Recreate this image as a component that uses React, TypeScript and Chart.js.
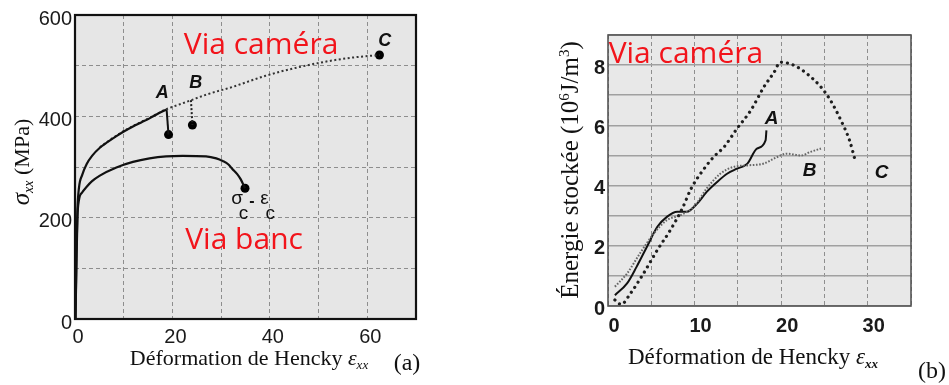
import React, { useEffect, useRef } from 'react';
import { Chart, registerables } from 'chart.js';
Chart.register(...registerables);

// ---------- (a) contrainte / déformation ----------
const camAStrain = [0.1, 0.3, 0.5, 0.8, 1.5, 2.4, 3.5, 5.1, 6.8, 8.5, 10.2, 11.9, 13.6, 15.3, 17.0, 18.7];
const camAStress = [0, 130, 215, 258, 285, 306, 322, 338, 350, 361, 371, 380, 388, 396, 405, 413];

const camCStrain = [5.1, 8.5, 11.9, 15.3, 18.7, 21.0, 23.6, 27.0, 32.3, 39.1, 45.9, 52.7, 57.0, 62.5];
const camCStress = [339, 362, 381, 397, 414, 422, 431, 443, 458, 480, 497, 510, 516, 521];

const bancStrain = [0.1, 0.3, 0.5, 0.8, 1.5, 2.4, 3.5, 5.1, 8.5, 11.9, 15.3, 18.7, 22.1, 26.9, 29.0, 30.3, 31.5, 32.3, 33.3, 34.0, 34.9];
const bancStress = [0, 110, 200, 234, 250, 261, 272, 283, 299, 310, 317, 321, 322, 321, 317, 312, 305, 296, 286, 276, 258];

const dropAStrain = [18.8, 19.2];
const dropAStress = [414, 364];
const dropBStrain = [23.8, 24.1];
const dropBStress = [432, 383];

const endStrain = [19.2, 24.1, 62.5, 34.9];
const endStress = [364, 383, 521, 258];

const aXTicks = [0, 20, 40, 60];
const aYTicks = [0, 200, 400, 600];

// ---------- (b) énergie stockée ----------
const bAStrain = [0.8, 2.2, 3.3, 4.5, 5.7, 6.8, 8.0, 9.1, 10.3, 11.4, 12.6, 13.8, 14.9, 16.1, 17.2, 18.2, 18.3];
const bAEnergy = [0.36, 0.75, 1.3, 1.97, 2.63, 2.96, 3.13, 3.13, 3.4, 3.79, 4.12, 4.4, 4.56, 4.73, 5.23, 5.5, 5.83];

const bBStrain = [0.8, 2.2, 3.7, 5.3, 6.8, 8.4, 9.9, 11.4, 13.0, 14.5, 16.1, 18.0, 19.2, 20.7, 22.3, 23.4, 24.6];
const bBEnergy = [0.64, 1.08, 1.75, 2.41, 2.85, 3.02, 3.29, 3.9, 4.4, 4.62, 4.67, 4.73, 4.9, 5.06, 5.0, 5.12, 5.23];

const bCStrain = [0.8, 1.5, 2.6, 4.1, 5.7, 7.2, 8.6, 9.6, 10.7, 12.2, 13.4, 14.9, 16.5, 18.0, 19.2, 19.9, 21.5, 23.0, 24.6, 25.7, 26.9, 27.9, 28.6];
const bCEnergy = [0.2, 0.05, 0.42, 1.08, 1.86, 2.52, 3.25, 3.9, 4.4, 4.95, 5.28, 5.89, 6.5, 7.27, 7.77, 8.1, 7.99, 7.71, 7.27, 6.83, 6.17, 5.5, 4.78];

const bXTicks = [0, 10, 20, 30];
const bYTicks = [0, 2, 4, 6, 8];

const pts = (xs: number[], ys: number[]) => xs.map((x, i) => ({ x, y: ys[i] }));

type Seg = { t: string; font: string; dy?: number };
type Note = { text: string; x: number; y: number; font: string; color: string };

function drawSegs(ctx: CanvasRenderingContext2D, segs: Seg[], cx: number, cy: number, rotate: boolean, base: number) {
  ctx.save();
  ctx.translate(cx, cy);
  if (rotate) ctx.rotate(-Math.PI / 2);
  ctx.textAlign = 'left';
  ctx.textBaseline = 'alphabetic';
  ctx.fillStyle = '#111';
  const widths = segs.map((s) => {
    ctx.font = s.font;
    return ctx.measureText(s.t).width;
  });
  const total = widths.reduce((a, b) => a + b, 0);
  let x = -total / 2;
  segs.forEach((s, i) => {
    ctx.font = s.font;
    ctx.fillText(s.t, x, base + (s.dy || 0));
    x += widths[i];
  });
  ctx.restore();
}

function makeDecor(id: string, bg: string, frameColor: string, frameWidth: number, notes: Note[], titles: { segs: Seg[]; cx: number; cy: number; rotate: boolean; base: number }[]) {
  return {
    id,
    beforeDraw(chart: any) {
      const { ctx, chartArea: a } = chart;
      ctx.save();
      ctx.fillStyle = bg;
      ctx.fillRect(a.left, a.top, a.right - a.left, a.bottom - a.top);
      ctx.restore();
    },
    afterDatasetsDraw(chart: any) {
      const { ctx, chartArea: a, scales } = chart;
      ctx.save();
      ctx.strokeStyle = frameColor;
      ctx.lineWidth = frameWidth;
      ctx.strokeRect(a.left, a.top, a.right - a.left, a.bottom - a.top);
      ctx.textAlign = 'center';
      ctx.textBaseline = 'middle';
      notes.forEach((n) => {
        ctx.font = n.font;
        ctx.fillStyle = n.color;
        ctx.fillText(n.text, scales.x.getPixelForValue(n.x), scales.y.getPixelForValue(n.y));
      });
      ctx.restore();
      titles.forEach((t) => drawSegs(ctx, t.segs, t.cx, t.cy, t.rotate, t.base));
    },
  };
}

const SERIF = '"Liberation Serif", "DejaVu Serif", serif';
const SANS = '"Liberation Sans", Arial, sans-serif';
const RED = '#f2141b';

function LeftChart() {
  const ref = useRef<HTMLCanvasElement>(null);
  useEffect(() => {
    const lab = `bold italic 18px ${SANS}`;
    const sm = `19px ${SANS}`;
    const notes: Note[] = [
      { text: 'Via caméra', x: 38.2, y: 539, font: `30px "Open Sans"`, color: RED },
      { text: 'Via banc', x: 34.7, y: 156, font: `30px "Open Sans"`, color: RED },
      { text: 'A', x: 17.9, y: 446, font: lab, color: '#111' },
      { text: 'B', x: 24.8, y: 465, font: lab, color: '#111' },
      { text: 'C', x: 63.6, y: 549, font: lab, color: '#111' },
      { text: 'σ', x: 33.3, y: 237, font: sm, color: '#111' },
      { text: '-', x: 36.3, y: 232, font: `bold 16px ${SANS}`, color: '#111' },
      { text: 'ε', x: 38.9, y: 238, font: sm, color: '#111' },
      { text: 'c', x: 34.6, y: 207, font: sm, color: '#111' },
      { text: 'c', x: 40.1, y: 207, font: sm, color: '#111' },
    ];
    const titles = [
      {
        segs: [
          { t: 'σ', font: `italic 25px ${SERIF}` },
          { t: 'xx', font: `italic 14px ${SERIF}`, dy: 4 },
          { t: ' (MPa)', font: `22px ${SERIF}` },
        ],
        cx: 22, cy: 162, rotate: true, base: 7,
      },
      {
        segs: [
          { t: 'Déformation de Hencky ', font: `22px ${SERIF}` },
          { t: 'ε', font: `italic 22px ${SERIF}` },
          { t: 'xx', font: `italic 13px ${SERIF}`, dy: 4 },
        ],
        cx: 249, cy: 358, rotate: false, base: 7,
      },
      { segs: [{ t: '(a)', font: `24px ${SERIF}` }], cx: 407, cy: 362, rotate: false, base: 8 },
    ];
    const chart = new Chart(ref.current!, {
      type: 'line',
      data: {
        datasets: [
          { data: pts(camAStrain, camAStress), borderColor: '#111', borderWidth: 2.2, pointRadius: 0, cubicInterpolationMode: 'monotone' },
          { data: pts(camCStrain, camCStress), borderColor: '#333', borderWidth: 2, borderDash: [2, 2.5], pointRadius: 0, cubicInterpolationMode: 'monotone' },
          { data: pts(bancStrain, bancStress), borderColor: '#111', borderWidth: 2.2, pointRadius: 0, cubicInterpolationMode: 'monotone' },
          { data: pts(dropAStrain, dropAStress), borderColor: '#111', borderWidth: 2, pointRadius: 0 },
          { data: pts(dropBStrain, dropBStress), borderColor: '#222', borderWidth: 2, borderDash: [2, 2], pointRadius: 0 },
          { data: pts(endStrain, endStress), showLine: false, pointRadius: 4.5, pointBackgroundColor: '#000', pointBorderColor: '#000', borderWidth: 0 },
        ] as any,
      },
      options: {
        responsive: false,
        animation: false,
        events: [],
        layout: { padding: { top: 12, right: 62, left: 0, bottom: 0 } },
        plugins: { legend: { display: false }, tooltip: { enabled: false } },
        scales: {
          x: {
            type: 'linear', min: 0, max: 70,
            afterFit: (s: any) => { s.height = 66; },
            ticks: { stepSize: 10, padding: 6, labelOffset: 3, color: '#1a1a1a', font: { family: SANS, size: 20 }, maxRotation: 0,
              callback: (v: any) => (aXTicks.includes(Number(v)) ? String(v) : '') },
            grid: { color: '#8e8e8e', lineWidth: 1, drawTicks: false },
            border: { display: false, dash: [4, 3] },
          },
          y: {
            type: 'linear', min: 0, max: 600,
            afterFit: (s: any) => { s.width = 75; },
            ticks: { stepSize: 100, padding: 3, labelOffset: 4, color: '#1a1a1a', font: { family: SANS, size: 20 },
              callback: (v: any) => (aYTicks.includes(Number(v)) ? String(v) : '') },
            grid: { color: '#8e8e8e', lineWidth: 1, drawTicks: false },
            border: { display: false, dash: [4, 3] },
          },
        },
      } as any,
      plugins: [makeDecor('decorA', '#e6e6e6', '#111', 2.2, notes, titles)],
    });
    return () => chart.destroy();
  }, []);
  return <canvas ref={ref} width={478} height={385} style={{ position: 'absolute', left: 0, top: 0, width: 478, height: 385 }} />;
}

function RightChart() {
  const ref = useRef<HTMLCanvasElement>(null);
  useEffect(() => {
    const lab = `bold italic 19px ${SANS}`;
    const notes: Note[] = [
      { text: 'Via caméra', x: 9.0, y: 8.34, font: `30px "Open Sans"`, color: RED },
      { text: 'A', x: 18.9, y: 6.23, font: lab, color: '#111' },
      { text: 'B', x: 23.3, y: 4.49, font: lab, color: '#111' },
      { text: 'C', x: 31.6, y: 4.43, font: lab, color: '#111' },
    ];
    const titles = [
      {
        segs: [
          { t: 'Énergie stockée (10', font: `25px ${SERIF}` },
          { t: '6', font: `15px ${SERIF}`, dy: -9 },
          { t: 'J/m', font: `25px ${SERIF}` },
          { t: '3', font: `15px ${SERIF}`, dy: -9 },
          { t: ')', font: `25px ${SERIF}` },
        ],
        cx: 92, cy: 170, rotate: true, base: 8,
      },
      {
        segs: [
          { t: 'Déformation de Hencky ', font: `23px ${SERIF}` },
          { t: 'ε', font: `italic 23px ${SERIF}` },
          { t: 'xx', font: `italic bold 13px ${SERIF}`, dy: 4 },
        ],
        cx: 275, cy: 357, rotate: false, base: 7,
      },
      { segs: [{ t: '(b)', font: `24px ${SERIF}` }], cx: 454, cy: 370, rotate: false, base: 8 },
    ];
    const chart = new Chart(ref.current!, {
      type: 'line',
      data: {
        datasets: [
          { data: pts(bCStrain, bCEnergy), borderColor: '#1e1e1e', borderWidth: 3.2, borderDash: [0.01, 6], borderCapStyle: 'round', pointRadius: 0, cubicInterpolationMode: 'monotone' },
          { data: pts(bBStrain, bBEnergy), borderColor: '#666', borderWidth: 2, borderDash: [1.6, 1.6], pointRadius: 0, cubicInterpolationMode: 'monotone' },
          { data: pts(bAStrain, bAEnergy), borderColor: '#111', borderWidth: 2, pointRadius: 0, cubicInterpolationMode: 'monotone' },
        ] as any,
      },
      options: {
        responsive: false,
        animation: false,
        events: [],
        layout: { padding: { top: 35, right: 38, left: 0, bottom: 0 } },
        plugins: { legend: { display: false }, tooltip: { enabled: false } },
        scales: {
          x: {
            type: 'linear', min: 0, max: 35,
            afterFit: (s: any) => { s.height = 79; },
            ticks: { stepSize: 5, padding: 8, labelOffset: 6, color: '#1a1a1a', font: { family: SANS, size: 20, weight: 'bold' }, maxRotation: 0,
              callback: (v: any) => (bXTicks.includes(Number(v)) ? String(v) : '') },
            grid: { color: '#8e8e8e', lineWidth: 1, drawTicks: false },
            border: { display: false, dash: [4, 3] },
          },
          y: {
            type: 'linear', min: 0, max: 9,
            afterFit: (s: any) => { s.width = 130; },
            ticks: { stepSize: 1, padding: 3, labelOffset: 3, color: '#1a1a1a', font: { family: SANS, size: 20, weight: 'bold' },
              callback: (v: any) => (bYTicks.includes(Number(v)) ? String(v) : '') },
            grid: { color: '#a0a0a0', lineWidth: 1.5, drawTicks: false },
            border: { display: false },
          },
        },
      } as any,
      plugins: [makeDecor('decorB', '#e8e8e8', '#555', 1.6, notes, titles)],
    });
    return () => chart.destroy();
  }, []);
  return <canvas ref={ref} width={471} height={385} style={{ position: 'absolute', left: 478, top: 0, width: 471, height: 385 }} />;
}

export default function App() {
  return (
    <div style={{ position: 'absolute', left: 0, top: 0, width: 949, height: 385, background: '#fff', overflow: 'hidden' }}>
      <LeftChart />
      <RightChart />
    </div>
  );
}
